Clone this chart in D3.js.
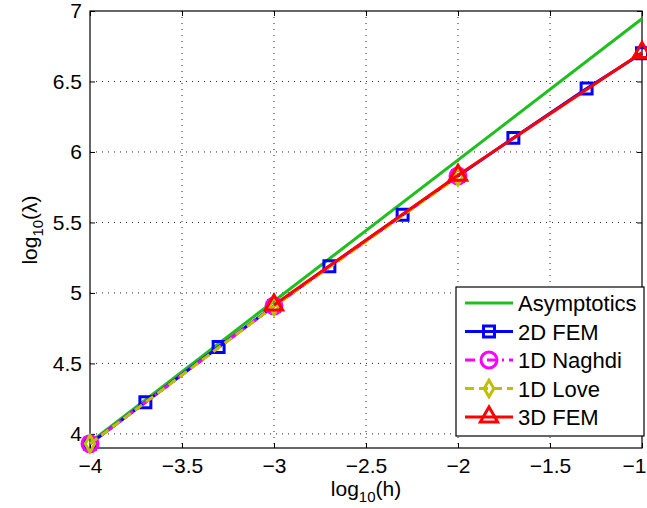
<!DOCTYPE html>
<html><head><meta charset="utf-8">
<script src="https://cdn.jsdelivr.net/npm/d3@7"></script>
<style>body{margin:0;background:#fff}svg{display:block}text{font-family:"Liberation Sans",Arial,Helvetica,sans-serif}</style>
</head><body><svg id="c" width="647" height="508"></svg>
<script>
const xTicks = [-4, -3.5, -3, -2.5, -2, -1.5, -1];
const yTicks = [4, 4.5, 5, 5.5, 6, 6.5, 7];
const asymX = [-4, -1];
const asymY = [3.94, 6.945];
const fem2dX = [-4, -3.699, -3.301, -3, -2.699, -2.301, -2, -1.699, -1.301, -1];
const fem2dY = [3.93, 4.225, 4.616, 4.907, 5.19, 5.555, 5.83, 6.10, 6.45, 6.70];
const naghdiX = [-4, -3, -2];
const naghdiY = [3.93, 4.907, 5.83];
const loveX = [-4, -3, -2];
const loveY = [3.93, 4.905, 5.825];
const fem3dX = [-3, -2, -1];
const fem3dY = [4.915, 5.835, 6.705];
const legendLabels = ["Asymptotics", "2D FEM", "1D Naghdi", "1D Love", "3D FEM"];

const svg = d3.select("#c");
const L = 90, R = 642, T = 11, B = 448;
const x = d3.scaleLinear().domain([-4, -1]).range([L, R]);
const y = d3.scaleLinear().domain([3.9, 7]).range([B, T]);
const fmt = d => (d < 0 ? "\u2212" + Math.abs(d) : "" + d);

// grid
const g = svg.append("g");
g.selectAll(".gx").data(xTicks.slice(1, -1)).enter().append("line")
  .attr("x1", d => x(d)).attr("x2", d => x(d)).attr("y1", T).attr("y2", B)
  .attr("stroke", "#222").attr("stroke-width", 1).attr("stroke-dasharray", "1,5");
g.selectAll(".gy").data(yTicks.slice(0, -1)).enter().append("line")
  .attr("y1", d => y(d)).attr("y2", d => y(d)).attr("x1", L).attr("x2", R)
  .attr("stroke", "#222").attr("stroke-width", 1).attr("stroke-dasharray", "1,5");

// axes
const xAxB = svg.append("g").attr("transform", `translate(0,${B})`)
  .call(d3.axisBottom(x).tickValues(xTicks).tickSize(-5).tickPadding(10).tickFormat(fmt));
const xAxT = svg.append("g").attr("transform", `translate(0,${T})`)
  .call(d3.axisTop(x).tickValues(xTicks).tickSize(-5).tickFormat(""));
const yAxL = svg.append("g").attr("transform", `translate(${L},0)`)
  .call(d3.axisLeft(y).tickValues(yTicks).tickSize(-5).tickPadding(8).tickFormat(fmt));
const yAxR = svg.append("g").attr("transform", `translate(${R},0)`)
  .call(d3.axisRight(y).tickValues(yTicks).tickSize(-5).tickFormat(""));
[xAxB, xAxT, yAxL, yAxR].forEach(a => {
  a.select(".domain").remove();
  a.selectAll("line").attr("stroke", "#000");
  a.selectAll("text").attr("font-size", 21).attr("fill", "#000")
    .attr("font-family", "Liberation Sans, Arial, sans-serif");
});
xAxB.selectAll("text").filter(d => d === -1).attr("text-anchor", "end").attr("dx", 4);
svg.append("rect").attr("x", L).attr("y", T).attr("width", R - L).attr("height", B - T)
  .attr("fill", "none").attr("stroke", "#000").attr("stroke-width", 1.2);

// series
const series = [
  {xs: asymX, ys: asymY, color: "#1ebf1e", dash: null, marker: null},
  {xs: fem2dX, ys: fem2dY, color: "#0000ff", dash: null, marker: "square"},
  {xs: naghdiX, ys: naghdiY, color: "#ff00ff", dash: "10,5,2,5", marker: "circle"},
  {xs: loveX, ys: loveY, color: "#bfbf00", dash: "9,5", marker: "diamond"},
  {xs: fem3dX, ys: fem3dY, color: "#ff0000", dash: null, marker: "triangle"}
];
const line = d3.line().x(d => x(d[0])).y(d => y(d[1]));
const symMap = {square: d3.symbolSquare, circle: d3.symbolCircle, diamond: d3.symbolDiamond, triangle: d3.symbolTriangle};
const symSize = {square: 120, circle: 200, diamond: 80, triangle: 130};
function drawMarker(sel, m, color, cx, cy) {
  sel.append("path").attr("d", d3.symbol().type(symMap[m]).size(symSize[m])())
    .attr("transform", `translate(${cx},${cy})`)
    .attr("fill", "none").attr("stroke", color).attr("stroke-width", 3);
}
const pg = svg.append("g");
series.forEach(s => {
  const pts = s.xs.map((v, i) => [v, s.ys[i]]);
  pg.append("path").datum(pts).attr("d", line).attr("fill", "none")
    .attr("stroke", s.color).attr("stroke-width", 3)
    .attr("stroke-dasharray", s.dash);
  if (s.marker) pts.forEach(p => drawMarker(pg, s.marker, s.color, x(p[0]), y(p[1])));
});

// legend
const lg = svg.append("g");
lg.append("rect").attr("x", 456).attr("y", 287).attr("width", 188).attr("height", 149)
  .attr("fill", "#fff").attr("stroke", "#000").attr("stroke-width", 1.2);
series.forEach((s, i) => {
  const ly = 303 + i * 28.5;
  lg.append("line").attr("x1", 465).attr("x2", 513).attr("y1", ly).attr("y2", ly)
    .attr("stroke", s.color).attr("stroke-width", 3).attr("stroke-dasharray", s.dash);
  if (s.marker) drawMarker(lg, s.marker, s.color, 489, ly);
  lg.append("text").attr("x", 518).attr("y", ly + 8).attr("font-size", 22).attr("fill", "#000")
    .text(legendLabels[i]);
});

// axis labels
const xl = svg.append("text").attr("x", 366).attr("y", 496).attr("text-anchor", "middle")
  .attr("font-size", 21).attr("fill", "#000");
xl.append("tspan").text("log");
xl.append("tspan").attr("font-size", 15).attr("dy", 6).text("10");
xl.append("tspan").attr("dy", -6).text("(h)");
const yl = svg.append("text").attr("transform", "translate(37,230) rotate(-90)")
  .attr("text-anchor", "middle").attr("font-size", 21).attr("fill", "#000");
yl.append("tspan").text("log");
yl.append("tspan").attr("font-size", 15).attr("dy", 6).text("10");
yl.append("tspan").attr("dy", -6).text("(\u03bb)");
</script></body></html>
